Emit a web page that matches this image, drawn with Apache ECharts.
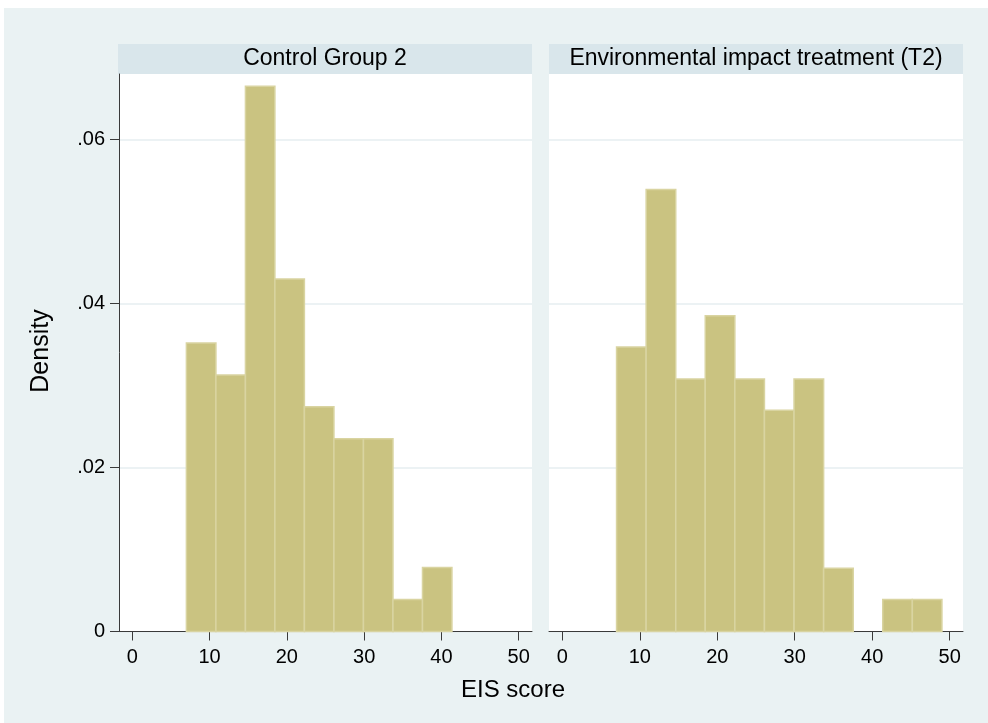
<!DOCTYPE html>
<html>
<head>
<meta charset="utf-8">
<script src="https://cdn.jsdelivr.net/npm/echarts@6/dist/echarts.min.js"></script>
<style>
html,body{margin:0;padding:0;background:#fff;}
#chart{width:988px;height:723px;}
</style>
</head>
<body>
<div id="chart"></div>
<script>
// ---- data ----
const panelTitles = ['Control Group 2', 'Environmental impact treatment (T2)'];
const binEdges = [7, 10.82, 14.64, 18.45, 22.27, 26.09, 29.91, 33.73, 37.55, 41.36, 45.18, 49];
const controlDensity = [0.0352, 0.0313, 0.0665, 0.0430, 0.0274, 0.0235, 0.0235, 0.0039, 0.0078, 0, 0];
const treatDensity = [0.0347, 0.0539, 0.0308, 0.0385, 0.0308, 0.0270, 0.0308, 0.0077, 0, 0.0039, 0.0039];
const xTicks = [0, 10, 20, 30, 40, 50];
const yTicks = [0, 0.02, 0.04, 0.06];
const xTitle = 'EIS score';
const yTitle = 'Density';

const FONT = "'Liberation Sans', Arial, Helvetica, sans-serif";

function toBins(dens) {
  const out = [];
  for (let i = 0; i < dens.length; i++) {
    out.push([binEdges[i], binEdges[i + 1], dens[i]]);
  }
  return out;
}

function renderBar(params, api) {
  const x0 = api.value(0), x1 = api.value(1), y = api.value(2);
  if (!y) return null;
  const p0 = api.coord([x0, y]);
  const p1 = api.coord([x1, 0]);
  return {
    type: 'rect',
    shape: { x: p0[0], y: p0[1], width: p1[0] - p0[0], height: p1[1] - p0[1] },
    style: { fill: '#cac381', stroke: '#d9d4a1', lineWidth: 1.5 }
  };
}

function xAxisFor(idx) {
  return {
    type: 'value', gridIndex: idx, min: -1.72, max: 51.72,
    axisLine: { show: true, onZero: false, lineStyle: { color: '#3a3a3a', width: 1 } },
    axisTick: { show: true, inside: false, length: 9, customValues: xTicks, lineStyle: { color: '#3a3a3a' } },
    axisLabel: { show: true, customValues: xTicks, margin: 16, color: '#000', fontSize: 20, fontFamily: FONT },
    splitLine: { show: false }
  };
}

function yAxisFor(idx, labelled) {
  return {
    type: 'value', gridIndex: idx, min: 0, max: 0.068,
    axisLine: { show: labelled, onZero: false, lineStyle: { color: '#3a3a3a', width: 1 } },
    axisTick: { show: labelled, inside: false, length: 9, customValues: yTicks, lineStyle: { color: '#3a3a3a' } },
    axisLabel: {
      show: labelled, customValues: yTicks, margin: 14, color: '#000', fontSize: 20, fontFamily: FONT,
      formatter: v => (v === 0 ? '0' : String(v).replace(/^0/, ''))
    },
    splitLine: { show: true, lineStyle: { color: '#e6eef1', width: 1.5 } }
  };
}

const chart = echarts.init(document.getElementById('chart'), null, { renderer: 'canvas' });

const option = {
  backgroundColor: '#eaf2f3',
  animation: false,
  grid: [
    { left: 119, top: 74, width: 413, height: 557.5, show: true, backgroundColor: '#fff', borderWidth: 0 },
    { left: 549, top: 74, width: 414, height: 557.5, show: true, backgroundColor: '#fff', borderWidth: 0 }
  ],
  xAxis: [xAxisFor(0), xAxisFor(1)],
  yAxis: [yAxisFor(0, true), yAxisFor(1, false)],
  series: [
    { type: 'custom', xAxisIndex: 0, yAxisIndex: 0, data: toBins(controlDensity), encode: { x: [0, 1], y: 2 }, renderItem: renderBar },
    { type: 'custom', xAxisIndex: 1, yAxisIndex: 1, data: toBins(treatDensity), encode: { x: [0, 1], y: 2 }, renderItem: renderBar }
  ],
  graphic: [
    { type: 'rect', shape: { x: 0, y: 0, width: 988, height: 8 }, style: { fill: '#fff' }, silent: true },
    { type: 'rect', shape: { x: 0, y: 0, width: 4, height: 723 }, style: { fill: '#fff' }, silent: true },
    { type: 'rect', shape: { x: 118, y: 44, width: 414, height: 30 }, style: { fill: '#d9e6eb' }, silent: true },
    { type: 'rect', shape: { x: 549, y: 44, width: 414, height: 30 }, style: { fill: '#d9e6eb' }, silent: true },
    { type: 'text', x: 325, y: 59, style: { text: panelTitles[0], fill: '#000', font: '23px ' + FONT, textAlign: 'center', textVerticalAlign: 'middle' }, silent: true },
    { type: 'text', x: 756, y: 59, style: { text: panelTitles[1], fill: '#000', font: '23px ' + FONT, textAlign: 'center', textVerticalAlign: 'middle' }, silent: true },
    { type: 'text', x: 513, y: 690, style: { text: xTitle, fill: '#000', font: '24px ' + FONT, textAlign: 'center', textVerticalAlign: 'middle' }, silent: true },
    { type: 'text', x: 41, y: 351, rotation: Math.PI / 2, style: { text: yTitle, fill: '#000', font: '25px ' + FONT, textAlign: 'center', textVerticalAlign: 'middle' }, silent: true }
  ]
};

chart.setOption(option);
</script>
</body>
</html>
